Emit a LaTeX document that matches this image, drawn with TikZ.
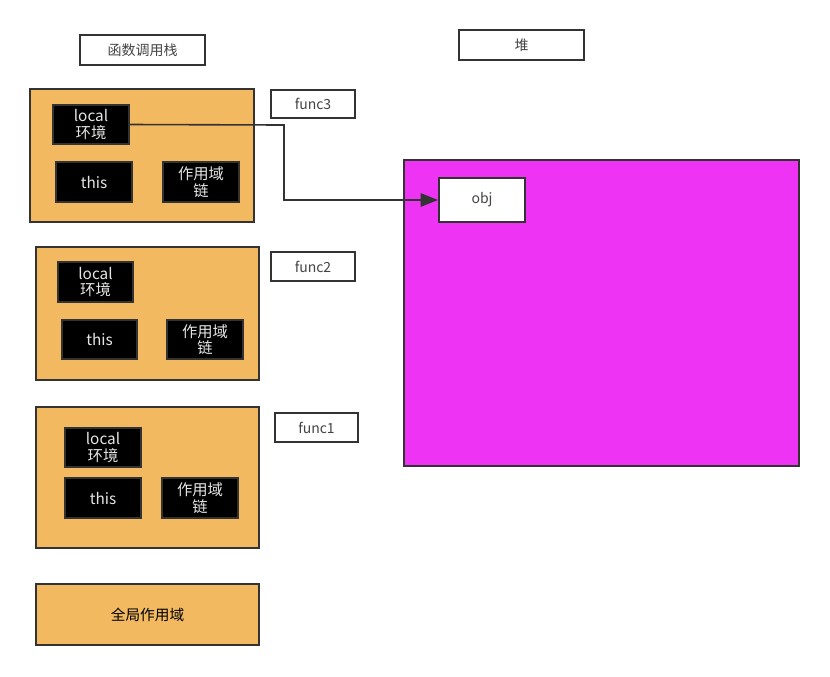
\documentclass[tikz,border=0pt]{standalone}
\usepackage{fontspec}
\setmainfont{Noto Sans CJK SC}
\usetikzlibrary{arrows.meta}
\definecolor{frameorange}{HTML}{F2B961}
\definecolor{heapmag}{HTML}{EE33F5}
\definecolor{edgegray}{HTML}{333333}
\definecolor{labelgray}{HTML}{444444}
\tikzset{
  px/.style={x=0.75pt,y=-0.75pt},
  labelbox/.style={draw=edgegray,line width=1.5pt,fill=white,text=labelgray,font=\fontsize{10.5}{12}\selectfont,inner sep=0pt},
  framebox/.style={draw=edgegray,line width=1.5pt,fill=frameorange,inner sep=0pt},
  blackbox/.style={draw=edgegray,line width=1.5pt,fill=black,text=white!90!black,font=\fontsize{11.5}{12.5}\selectfont,align=center,inner sep=0pt},
  heapbox/.style={draw=edgegray,line width=1.5pt,fill=heapmag,inner sep=0pt},
  conn/.style={draw=edgegray,line width=1.2pt,-{Triangle[length=13pt,width=10pt]}}
}
\begin{document}
\begin{tikzpicture}[px]
\useasboundingbox (0,0) rectangle (830,676);
% titles
\node[labelbox,minimum width=93.75pt,minimum height=22.5pt] (stackT) at (142.5,50) {函数调用栈};
\node[labelbox,minimum width=93.75pt,minimum height=22.5pt] (heapT) at (521.5,45) {堆};
% heap
\node[heapbox,minimum width=296.25pt,minimum height=229.5pt] (heap) at (601.5,313) {};
\node[labelbox,minimum width=64.5pt,minimum height=33pt] (obj) at (482,200) {obj};
% frame 3
\node[framebox,minimum width=168pt,minimum height=99.75pt] (f3) at (142,155.5) {};
\node[blackbox,minimum width=57pt,minimum height=29.25pt] (l3) at (91,124.5) {local\\环境};
\node[blackbox,minimum width=57pt,minimum height=30pt] (t3) at (94,182) {this};
\node[blackbox,minimum width=57pt,minimum height=30pt] (s3) at (201,182) {作用域\\链};
\node[labelbox,minimum width=63pt,minimum height=21pt] (n3) at (313,104) {func3};
% frame 2
\node[framebox,minimum width=167.25pt,minimum height=99.75pt] (f2) at (147.5,313.5) {};
\node[blackbox,minimum width=56.25pt,minimum height=30pt] (l2) at (95.5,282) {local\\环境};
\node[blackbox,minimum width=56.25pt,minimum height=29.25pt] (t2) at (99.5,339.5) {this};
\node[blackbox,minimum width=57pt,minimum height=29.25pt] (s2) at (205,339.5) {作用域\\链};
\node[labelbox,minimum width=63pt,minimum height=21.75pt] (n2) at (313,266.5) {func2};
% frame 1
\node[framebox,minimum width=167.25pt,minimum height=105.75pt] (f1) at (147.5,477.5) {};
\node[blackbox,minimum width=57pt,minimum height=29.25pt] (l1) at (103,447.5) {local\\环境};
\node[blackbox,minimum width=57pt,minimum height=30pt] (t1) at (103,498) {this};
\node[blackbox,minimum width=57pt,minimum height=30pt] (s1) at (200,498) {作用域\\链};
\node[labelbox,minimum width=62.25pt,minimum height=21.75pt] (n1) at (316.5,427.5) {func1};
% global
\node[framebox,minimum width=167.25pt,minimum height=45.75pt,font=\fontsize{11}{12}\selectfont,text=black] (g) at (147.5,614.5) {全局作用域};
% connector
\coordinate (bend) at (284,125);
\draw[conn] (l3.east) -- (bend) |- (obj.west);
\end{tikzpicture}
\end{document}
